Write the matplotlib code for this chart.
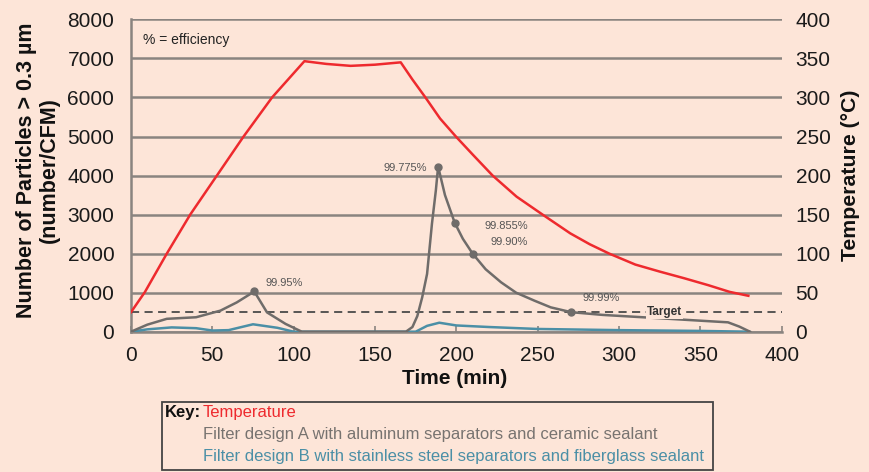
import matplotlib
matplotlib.use("Agg")
import matplotlib.pyplot as plt
from matplotlib.patches import Rectangle

plt.rcParams['font.family'] = ['Liberation Sans', 'DejaVu Sans']

# Temperature curve (time in min, degC)
temp_time = [0, 8.6, 22, 36.4, 52.8, 69.2, 86.7, 106.6, 120, 135, 150, 165.8,
             173, 181, 190, 199.7, 210, 222.3, 237, 253, 270, 282, 294, 310,
             325, 340, 355, 368, 379.5]
temp_vals = [25, 51, 100, 150, 200, 250, 300, 346.5, 343, 340.5, 342, 345,
             323, 300, 273, 250, 227, 200, 173, 150, 126, 112, 100, 86,
             77, 68.5, 59.5, 51, 46]

# Filter design A (particles/CFM)
a_time = [0, 10, 22, 40, 55, 65, 75.8, 83.6, 95, 105, 169, 173, 176, 179, 182,
          185, 187.4, 188.8, 193, 199, 204, 210, 218, 227.5, 236.7, 248, 258,
          270.6, 290, 315.8, 350, 367, 374, 380.5]
a_vals = [0, 180, 330, 370, 540, 750, 1030, 495, 200, 0, 0, 120, 400, 880, 1480,
          2765, 3620, 4230, 3500, 2790, 2380, 2000, 1600, 1265, 1000, 795, 624,
          500, 430, 367, 282, 240, 130, 0]

# Filter design B (particles/CFM)
b_time = [0, 10, 25, 40, 50, 60, 75, 90, 100, 175, 182, 189.5, 200, 220, 250,
          300, 350, 380]
b_vals = [0, 60, 110, 90, 30, 40, 190, 100, 0, 0, 150, 230, 160, 120, 70,
          40, 20, 0]

# efficiency markers on design A
mark_time = [75.8, 188.8, 199, 210, 270.6]
mark_vals = [1030, 4230, 2790, 2000, 500]
mark_text = ["99.95%", "99.775%", "99.855%", "99.90%", "99.99%"]
text_pos = [(82.4, 1250, "left"), (182, 4190, "right"), (244, 2710, "right"),
            (244, 2300, "right"), (277.8, 865, "left")]

target = 500

W, H = 869, 472
BG = "#fde5d8"
GRID = "#8a8480"
RED = "#ee2a2e"
GRAY = "#6f6c6a"
BLUE = "#4b8fa6"

fig = plt.figure(figsize=(W / 100, H / 100), dpi=100, facecolor=BG)
ax = fig.add_axes([131 / W, 1 - 331.7 / H, 650.7 / W, 312.3 / H])
ax.set_facecolor(BG)

ax.set_xlim(0, 400)
ax.set_ylim(0, 8000)
ax.set_xticks(range(0, 401, 50))
ax.set_yticks(range(0, 8001, 1000))
ax.yaxis.grid(True, color=GRID, lw=1.8)
ax.set_axisbelow(True)
for s in ["top", "right"]:
    ax.spines[s].set_visible(False)
ax.spines["left"].set_color(GRID)
ax.spines["left"].set_linewidth(1.8)
ax.spines["bottom"].set_color(GRID)
ax.spines["bottom"].set_linewidth(1.8)
ax.tick_params(axis="x", direction="in", length=4, width=1.2, color=GRID,
               labelsize=15, pad=10, labelcolor="#1a1a1a")
ax.tick_params(axis="y", length=0, labelsize=15, pad=12, labelcolor="#1a1a1a")

ax.axhline(target, color="#4a4a4a", lw=1.3, ls=(0, (4.5, 3)), zorder=3)

ax.plot(b_time, b_vals, color=BLUE, lw=1.8, zorder=4)
ax.plot(a_time, a_vals, color=GRAY, lw=1.8, zorder=5)
ax.plot(mark_time, mark_vals, "o", color=GRAY, ms=5, zorder=6)

for (tx, ty, ha), s in zip(text_pos, mark_text):
    ax.text(tx, ty, s, fontsize=8, color="#555555", ha=ha, va="center", zorder=7)

ax.text(328, target, "Target", fontsize=8.5, fontweight="bold", color="#333333",
        ha="center", va="center", zorder=7,
        bbox=dict(facecolor=BG, edgecolor="none", pad=0.5))
ax.text(7.4, 7480, "% = efficiency", fontsize=10, color="#222222",
        ha="left", va="center")

ax2 = ax.twinx()
ax2.set_ylim(0, 400)
ax2.set_yticks(range(0, 401, 50))
for s in ax2.spines.values():
    s.set_visible(False)
ax2.tick_params(axis="y", length=0, labelsize=15, pad=10, labelcolor="#1a1a1a")
ax2.plot(temp_time, temp_vals, color=RED, lw=1.8, zorder=8)

fig.text(455 / W, 1 - 378 / H, "Time (min)", fontsize=15, fontweight="bold",
         ha="center", va="center", color="#111111")
fig.text(38 / W, 1 - 170 / H, "Number of Particles > 0.3 µm\n(number/CFM)",
         fontsize=15.5, fontweight="bold", rotation=90, ha="center", va="center",
         multialignment="center", linespacing=1.15, color="#111111")
fig.text(851 / W, 1 - 175 / H, "Temperature (°C)", fontsize=15.3,
         fontweight="bold", rotation=90, ha="center", va="center",
         color="#111111")

# key box
fig.patches.append(Rectangle((162 / W, 1 - 470 / H), 551 / W, 68 / H,
                             transform=fig.transFigure, facecolor="none",
                             edgecolor="#444444", lw=1.3))
fig.text(165 / W, 1 - 412 / H, "Key:", fontsize=12, fontweight="bold",
         color="#111111", va="center")
fig.text(203 / W, 1 - 412 / H, "Temperature", fontsize=12, color=RED, va="center")
fig.text(203 / W, 1 - 434 / H,
         "Filter design A with aluminum separators and ceramic sealant",
         fontsize=12, color="#777370", va="center")
fig.text(203 / W, 1 - 456 / H,
         "Filter design B with stainless steel separators and fiberglass sealant",
         fontsize=12, color=BLUE, va="center")

fig.savefig("out.png", dpi=100, facecolor=BG)
